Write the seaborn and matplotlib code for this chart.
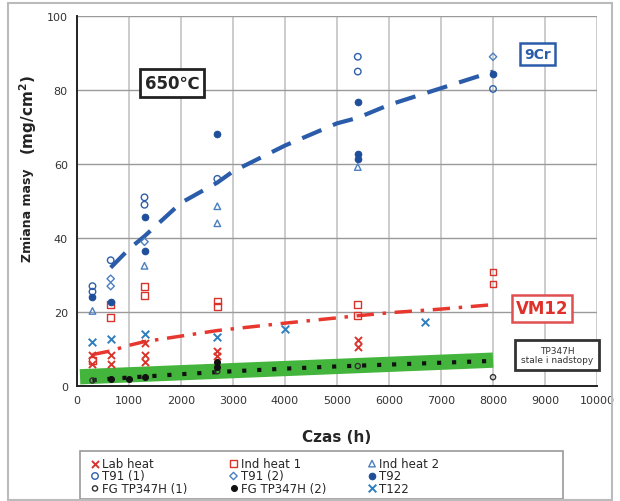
import matplotlib
matplotlib.use("Agg")
import matplotlib.pyplot as plt
import matplotlib.patches as mpatches
import seaborn as sns

# scatter series (time in h, mass change in mg/cm2)
lab_heat_t = [300, 300, 650, 650, 1300, 1300, 1300, 2700, 2700, 5400, 5400]
lab_heat_y = [8.5, 6, 8.5, 6, 11.5, 8.5, 6.5, 9.5, 8, 12.5, 10.5]
ind1_t = [300, 650, 650, 1300, 1300, 2700, 2700, 5400, 5400, 8000, 8000]
ind1_y = [7, 22, 18.5, 27, 24.5, 23, 21.5, 22, 19, 30.8, 27.6]
ind2_t = [300, 1300, 2700, 2700, 5400]
ind2_y = [20.3, 32.5, 48.6, 44, 59.2]
t91a_t = [300, 300, 650, 1300, 1300, 2700, 5400, 5400, 8000]
t91a_y = [27, 25.5, 34, 51, 49, 56, 89, 85, 80.3]
t91b_t = [650, 650, 1300, 8000]
t91b_y = [29, 27, 39, 89]
t92_t = [300, 650, 1300, 1300, 2700, 5400, 5400, 5400, 8000]
t92_y = [24, 22.7, 45.7, 36.5, 68, 76.8, 62.7, 61.5, 84.3]
fg1_t = [300, 2700, 5400, 8000]
fg1_y = [1.5, 4, 5.4, 2.4]
fg2_t = [650, 1000, 1300, 2700, 2700]
fg2_y = [2, 2, 2.5, 6.5, 5.2]
t122_t = [300, 650, 1300, 2700, 4000, 6700]
t122_y = [11.9, 12.7, 14, 13.2, 15.4, 17.3]

# trend lines
cr9_t = [650, 1000, 1300, 2000, 2700, 3000, 4000, 5000, 5400, 6000, 7000, 8000]
cr9_y = [32, 37, 40.5, 49.5, 55, 58, 65, 71, 72.5, 76, 80.5, 85]
vm12_t = [300, 650, 1000, 1300, 2000, 2700, 4000, 5400, 6000, 7000, 8000]
vm12_y = [8.5, 9.5, 11, 12, 13.5, 15, 17, 19, 19.8, 20.8, 22]
tp_band_t = [60, 8000]
tp_band_y = [2.5, 7]
tp_dot_t = [300, 1000, 2000, 3000, 4000, 5000, 6000, 7000, 8000]
tp_dot_y = [1.6, 2.3, 3.2, 4.0, 4.7, 5.3, 5.8, 6.3, 6.8]

sns.set_theme(style="white")
plt.rcParams['font.family'] = ['DejaVu Sans', 'Noto Sans CJK SC']

fig = plt.figure(figsize=(6.2, 5.02), dpi=100)
ax = fig.add_axes([0.124, 0.229, 0.839, 0.737])

# trend lines
sns.lineplot(x=tp_band_t, y=tp_band_y, ax=ax, color="#44b53c", linewidth=11,
             solid_capstyle="butt", zorder=2)
sns.lineplot(x=tp_dot_t, y=tp_dot_y, ax=ax, color="#111111", linewidth=3,
             linestyle=(0, (1, 2.6)), zorder=3)
sns.lineplot(x=cr9_t, y=cr9_y, ax=ax, color="#2a5caa", linewidth=3,
             linestyle=(0, (5, 3)), zorder=3)
sns.lineplot(x=vm12_t, y=vm12_y, ax=ax, color="#e8372e", linewidth=2.5,
             linestyle=(0, (5, 2.5, 1, 2.5)), zorder=3)

blue = "#2f5fa8"
red = "#d9342b"

def scat(t, y, label, marker, color, filled, size=22):
    kws = dict(ax=ax, marker=marker, s=size, label=label, zorder=4, legend=False)
    if filled:
        sns.scatterplot(x=t, y=y, color=color, edgecolor=color, linewidth=0.8, **kws)
    elif marker in ("x", "X"):
        sns.scatterplot(x=t, y=y, color=color, linewidth=1.4, **kws)
    else:
        sns.scatterplot(x=t, y=y, facecolor="none", edgecolor=color, linewidth=1.0, **kws)

scat(lab_heat_t, lab_heat_y, "Lab heat", "x", red, False, 26)
scat(ind1_t, ind1_y, "Ind heat 1", "s", red, False, 24)
scat(ind2_t, ind2_y, "Ind heat 2", "^", "#4a7fc1", False, 22)
scat(t91a_t, t91a_y, "T91 (1)", "o", blue, False, 22)
scat(t91b_t, t91b_y, "T91 (2)", "D", "#4a7fc1", False, 14)
scat(t92_t, t92_y, "T92", "o", "#1f4f9a", True, 22)
scat(fg1_t, fg1_y, "FG TP347H (1)", "o", "#333333", False, 14)
scat(fg2_t, fg2_y, "FG TP347H (2)", "o", "#111111", True, 18)
scat(t122_t, t122_y, "T122", "x", "#2f7fbf", False, 30)

ax.set_xlim(0, 10000)
ax.set_ylim(0, 100)
ax.set_xticks(range(0, 10001, 1000))
ax.set_yticks(range(0, 101, 20))
ax.tick_params(axis="both", labelsize=8, colors="#333333", length=3)
ax.grid(axis="y", color="#9a9a9a", linewidth=1.0)
ax.grid(axis="x", color="#c8c8c8", linewidth=1.3)
ax.set_axisbelow(True)
for side in ("top", "right"):
    ax.spines[side].set_visible(False)
for side in ("left", "bottom"):
    ax.spines[side].set_color("#222222")
    ax.spines[side].set_linewidth(1.4)

ax.set_xlabel("Czas (h)", fontsize=11, fontweight="bold", labelpad=17)
ax.set_ylabel("")
# y label in two sizes like the original
ax.text(-0.094, 0.465, "Zmiana masy", transform=ax.transAxes, rotation=90,
        ha="center", va="center", fontsize=9, fontweight="bold", color="#222222")
ax.text(-0.094, 0.735, "(mg/cm$^\\mathbf{2}$)", transform=ax.transAxes, rotation=90,
        ha="center", va="center", fontsize=11, fontweight="bold", color="#222222")

# annotation boxes
ax.text(1830, 82, "650\u2103", fontsize=12, fontweight="bold", ha="center", va="center",
        bbox=dict(boxstyle="square,pad=0.3", fc="white", ec="#222222", lw=2), zorder=6)
ax.text(8850, 89.7, "9Cr", fontsize=10, fontweight="bold", color="#2a5caa",
        ha="center", va="center",
        bbox=dict(boxstyle="square,pad=0.3", fc="white", ec="#2a5caa", lw=1.8), zorder=6)
ax.text(8940, 21, "VM12", fontsize=12, fontweight="bold", color="#e0302a",
        ha="center", va="center",
        bbox=dict(boxstyle="square,pad=0.25", fc="white", ec="#e05050", lw=1.8), zorder=6)
ax.text(9230, 8.4, "TP347H\nstale i nadstopy", fontsize=6.5, color="#333333",
        ha="center", va="center", linespacing=1.1, clip_on=False,
        bbox=dict(boxstyle="square,pad=0.6", fc="white", ec="#333333", lw=2), zorder=6)

# legend below, row-wise order like the original
handles, labels = ax.get_legend_handles_labels()
hmap = dict(zip(labels, handles))
order = ["Lab heat", "T91 (1)", "FG TP347H (1)",
         "Ind heat 1", "T91 (2)", "FG TP347H (2)",
         "Ind heat 2", "T92", "T122"]
leg = fig.legend([hmap[k] for k in order], order, ncol=3, loc="upper left",
                 bbox_to_anchor=(0.138, 0.1), bbox_transform=fig.transFigure,
                 frameon=False, fontsize=8.5,
                 labelspacing=-0.05, handlelength=0.6, handletextpad=0.3,
                 columnspacing=3.6, borderpad=0.0)

# legend frame drawn around the whole row
fig.patches.append(mpatches.Rectangle((0.129, 0.004), 0.779, 0.096, transform=fig.transFigure,
                                      fill=False, ec="#9a9a9a", lw=1.2))
# outer frame of the chart
fig.patches.append(mpatches.Rectangle((0.013, 0.002), 0.974, 0.99, transform=fig.transFigure,
                                      fill=False, ec="#bbbbbb", lw=1.5))

fig.savefig("out.png", dpi=100)
